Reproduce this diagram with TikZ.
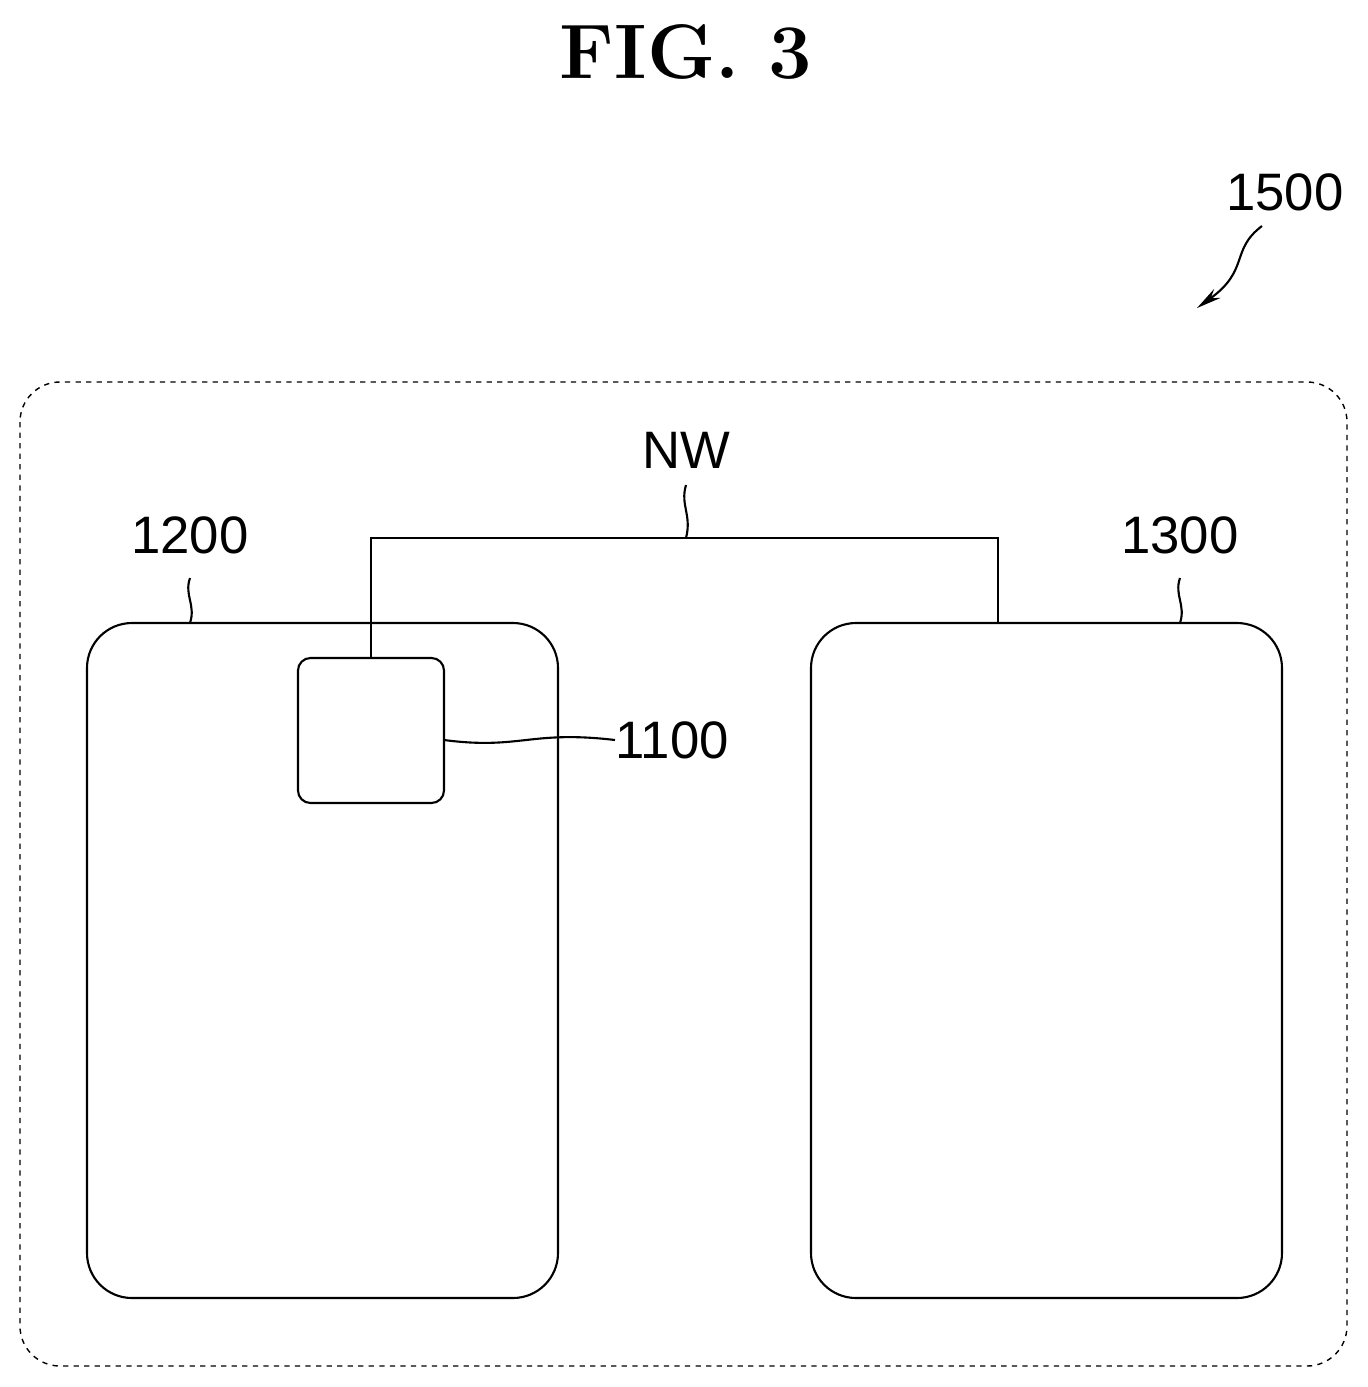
\documentclass[tikz,border=0pt]{standalone}
\usepackage{fontspec}
\setsansfont{Liberation Sans}
\usetikzlibrary{positioning}
\usetikzlibrary{calc}
\usetikzlibrary{arrows.meta}

\tikzset{
  box/.style={draw, line width=1.2pt, rounded corners=0.9cm},
  lbl/.style={font=\sffamily\fontsize{30}{36}\selectfont, inner sep=0pt},
  wire/.style={line width=1.2pt}
}

\begin{document}
\begin{tikzpicture}[x=0.02cm, y=-0.02cm]
\useasboundingbox (0,0) rectangle (1368,1387);

% title
\node [font=\bfseries\fontsize{44}{50}\selectfont, inner sep=0pt] (title) at (686,52) {FIG.\ 3};

% system 1500
\draw [dashed, line width=0.8pt, rounded corners=0.8cm] (20,382) rectangle (1347,1366);
\node [lbl] (l1500) at (1285,192) {1500};
\draw [wire, -{Stealth[length=0.5cm,width=0.22cm]}] (1262,226) .. controls (1230,250) and (1250,270) .. (1197,308);

% blocks
\draw [box] (87,623) rectangle (558,1298);
\draw [box] (811,623) rectangle (1282,1298);
\draw [box, rounded corners=0.25cm] (298,658) rectangle (444,803);
\coordinate (b1200) at (190,623);
\coordinate (b1300) at (1180,623);
\coordinate (b1100) at (444,740);

% network
\draw [wire] (371,658) -- (371,538) -- (998,538) -- (998,623);
\node [lbl] (nw) at (686,450) {NW};
\draw [wire] (686,485) .. controls (680,505) and (692,515) .. (686,538);

% labels
\node [lbl] (l1200) at (190,535) {1200};
\draw [wire] (190,578) .. controls (184,595) and (196,605) .. (b1200);
\node [lbl] (l1300) at (1180,535) {1300};
\draw [wire] (1180,578) .. controls (1174,595) and (1186,605) .. (b1300);
\node [lbl] (l1100) at (672,740) {1100};
\draw [wire] (b1100) .. controls (520,750) and (530,730) .. (l1100.west);

\end{tikzpicture}
\end{document}
